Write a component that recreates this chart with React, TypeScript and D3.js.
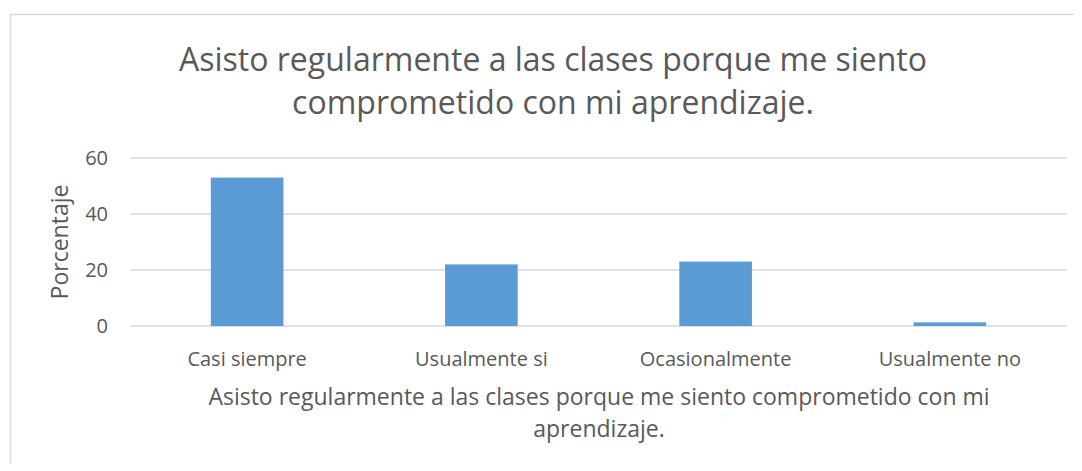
import React, { useEffect, useRef } from 'react';
import * as d3 from 'd3';

// Chart data
const categories = ['Casi siempre', 'Usualmente si', 'Ocasionalmente', 'Usualmente no'];
const values = [53, 22, 23, 1.3];
const yTicks = [0, 20, 40, 60];
const titleLines = ['Asisto regularmente a las clases porque me siento', 'comprometido con mi aprendizaje.'];
const xTitleLines = ['Asisto regularmente a las clases porque me siento comprometido con mi', 'aprendizaje.'];
const yTitle = 'Porcentaje';

function App() {
  const svgRef = useRef<SVGSVGElement>(null);

  useEffect(() => {
    const width = 1082;
    const height = 471;
    const margin = { top: 158, right: 15, bottom: 145, left: 130 };
    const font = '"Open Sans", "Liberation Sans", sans-serif';
    const textColor = '#595959';

    const svg = d3.select(svgRef.current)
      .attr('width', width)
      .attr('height', height)
      .style('display', 'block')
      .style('font-family', font);
    svg.selectAll('*').remove();

    // Chart border
    svg.append('rect')
      .attr('x', 10.5)
      .attr('y', 14.5)
      .attr('width', width + 20)
      .attr('height', height + 20)
      .attr('fill', '#fff')
      .attr('stroke', '#d9d9d9')
      .attr('stroke-width', 1.5);

    const x = d3.scaleBand<string>()
      .domain(categories)
      .range([margin.left, width - margin.right]);

    const y = d3.scaleLinear()
      .domain([0, 60])
      .range([height - margin.bottom, margin.top]);

    // Grid lines
    svg.append('g')
      .selectAll('line')
      .data(yTicks)
      .join('line')
      .attr('x1', margin.left)
      .attr('x2', width - margin.right)
      .attr('y1', d => y(d))
      .attr('y2', d => y(d))
      .attr('stroke', '#d9d9d9')
      .attr('stroke-width', 1.3);

    // Y tick labels
    svg.append('g')
      .selectAll('text')
      .data(yTicks)
      .join('text')
      .attr('x', 108)
      .attr('y', d => y(d))
      .attr('dy', '0.35em')
      .attr('text-anchor', 'end')
      .attr('fill', textColor)
      .style('font-size', '20px')
      .text(d => d);

    // Bars
    const barW = x.bandwidth() * 0.31;
    svg.append('g')
      .selectAll('rect')
      .data(values)
      .join('rect')
      .attr('x', (d, i) => x(categories[i])! + (x.bandwidth() - barW) / 2)
      .attr('y', d => y(d))
      .attr('width', barW)
      .attr('height', d => y(0) - y(d))
      .attr('fill', '#5b9bd5');

    // Category labels
    svg.append('g')
      .selectAll('text')
      .data(categories)
      .join('text')
      .attr('x', d => x(d)! + x.bandwidth() / 2)
      .attr('y', 366)
      .attr('text-anchor', 'middle')
      .attr('fill', textColor)
      .style('font-size', '20px')
      .text(d => d);

    // Chart title
    svg.append('g')
      .selectAll('text')
      .data(titleLines)
      .join('text')
      .attr('x', 553)
      .attr('y', (d, i) => 71 + i * 43)
      .attr('text-anchor', 'middle')
      .attr('fill', textColor)
      .style('font-size', '32px')
      .text(d => d);

    // X axis title
    svg.append('g')
      .selectAll('text')
      .data(xTitleLines)
      .join('text')
      .attr('x', 599)
      .attr('y', (d, i) => 405 + i * 32)
      .attr('text-anchor', 'middle')
      .attr('fill', textColor)
      .style('font-size', '23px')
      .text(d => d);

    // Y axis title
    svg.append('text')
      .attr('transform', `translate(68,${242}) rotate(-90)`)
      .attr('text-anchor', 'middle')
      .attr('fill', textColor)
      .style('font-size', '23px')
      .text(yTitle);
  }, []);

  return (
    <div style={{ margin: -8 }}>
      <svg ref={svgRef}></svg>
    </div>
  );
}

export default App;
